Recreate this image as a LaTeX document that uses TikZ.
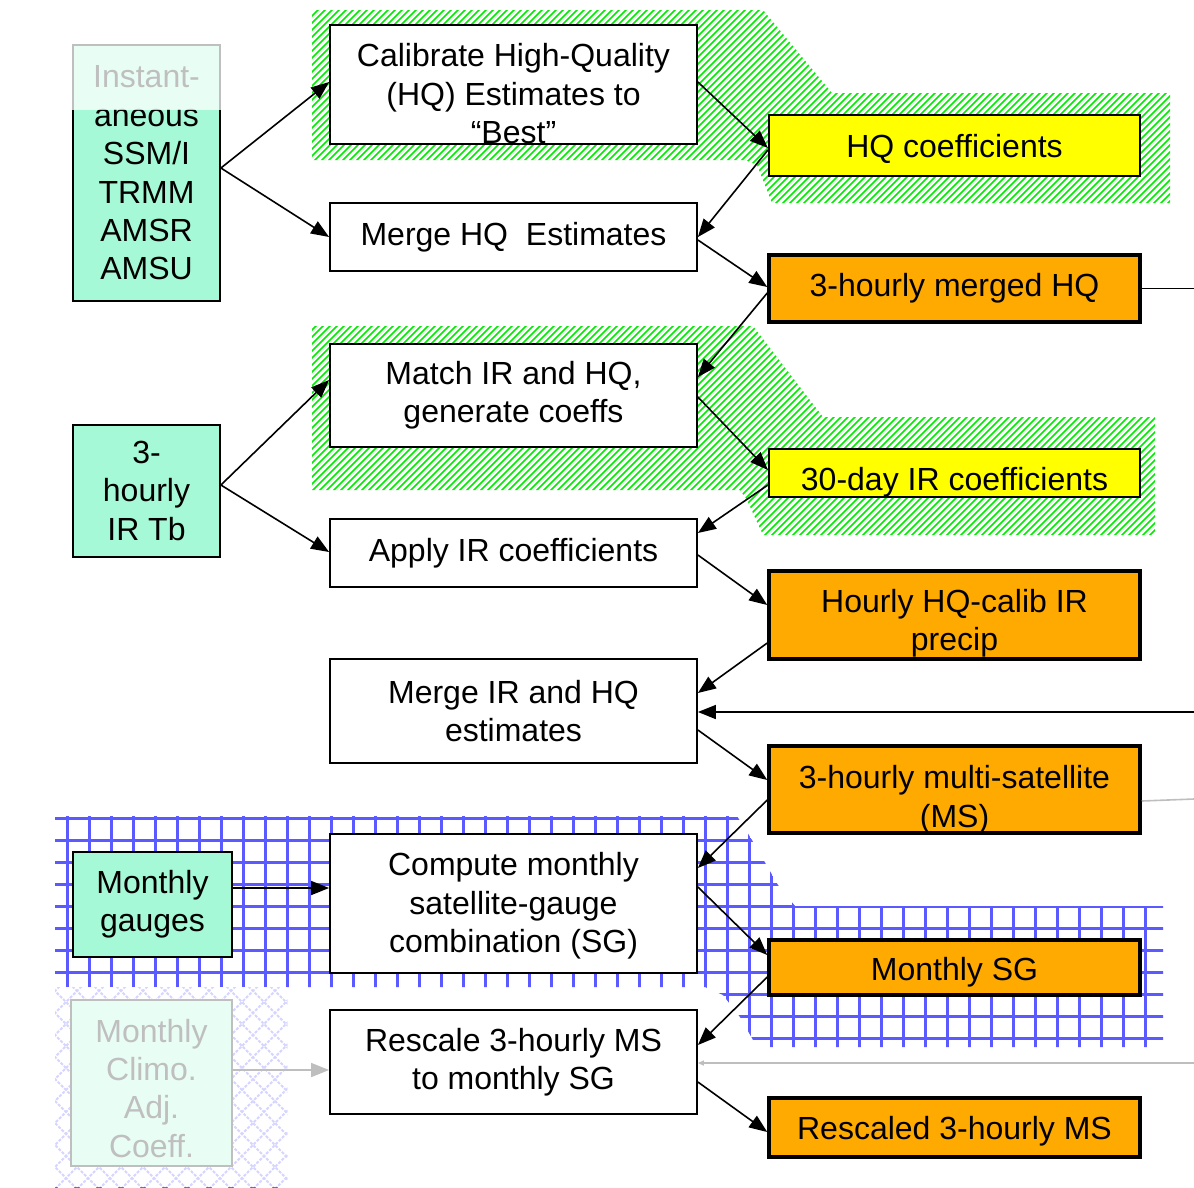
\documentclass[tikz,border=0pt]{standalone}
\usepackage{fontspec}
\setmainfont{Liberation Sans}
\usetikzlibrary{arrows.meta}
\definecolor{mint}{RGB}{166,249,214}
\definecolor{orng}{RGB}{255,170,0}
\definecolor{yel}{RGB}{255,255,0}
\definecolor{hgreen}{RGB}{0,235,0}
\definecolor{gblue}{RGB}{90,90,255}
\definecolor{fgray}{RGB}{190,190,190}
\newcommand{\dnbox}[2]{\raisebox{-#1}[\height][\depth]{\begin{tabular}{@{}c@{}}#2\end{tabular}}}
\begin{document}
\begin{tikzpicture}[x=1pt,y=-1pt,
  every node/.style={font=\fontsize{32}{38.4}\selectfont, inner sep=0pt, align=center},
  proc/.style={draw=black, line width=1.8pt, fill=white, minimum width=367pt},
  prod/.style={draw=black, line width=3.5pt, fill=orng, minimum width=371pt},
  coef/.style={draw=black, line width=2.2pt, fill=yel, minimum width=371pt},
  src/.style={draw=black, line width=1.8pt, fill=mint},
  arr/.style={line width=1.6pt, -{Triangle[length=18pt,width=14pt]}},
  hatchline/.style={hgreen, line width=1.6pt},
  gridline/.style={gblue, line width=3pt},
  fadeline/.style={fgray, line width=1.6pt},
]
\useasboundingbox (0,0) rectangle (1194,1187);

% green hatched regions
\begin{scope}
\clip (312,10) -- (763,10) -- (832,93) -- (1170,93) -- (1170,203) -- (772,203) -- (757,165) -- (745,160) -- (312,160) -- cycle;
\foreach \i in {300,307,...,1900} \draw[hatchline] (\i,0) -- ++(-700,700);
\end{scope}
\begin{scope}
\clip (312,326) -- (753,326) -- (823,417) -- (1155,417) -- (1155,535) -- (763,535) -- (747,500) -- (740,490) -- (312,490) -- cycle;
\foreach \i in {600,607,...,2000} \draw[hatchline] (\i,0) -- ++(-900,900);
\end{scope}

% blue grid region
\begin{scope}
\clip (55,816) -- (737,816) -- (752,840) -- (778,885) -- (795,906) -- (1163,906) -- (1163,1047) -- (757,1047) -- (740,1017) -- (723,995) -- (705,987) -- (55,987) -- cycle;
\foreach \k in {0,...,10} \draw[gridline] (40,818+22*\k) -- (1180,818+22*\k);
\foreach \k in {0,...,50} \draw[gridline] (67+22*\k,800) -- (67+22*\k,1060);
\end{scope}

% faded crosshatch region
\begin{scope}
\clip (55,987) rectangle (287,1187);
\foreach \i in {0,22,...,500} {
  \draw[gblue, line width=2pt, dash pattern=on 3pt off 1.5pt] (\i,980) -- ++(-220,220);
  \draw[gblue, line width=2pt, dash pattern=on 3pt off 1.5pt] (\i-220,980) -- ++(220,220);
}
\end{scope}

% nodes
\node[src, minimum width=147pt, minimum height=256pt] (instant) at (146.5,173) {Instant-\\aneous\\SSM/I\\TRMM\\AMSR\\AMSU};
\node[proc, minimum height=119pt] (cal) at (513.5,84.5) {\dnbox{13pt}{Calibrate High-Quality\\(HQ) Estimates to\\“Best”}};
\node[proc, minimum height=68pt] (mhq) at (513.5,237) {Merge HQ\ \ Estimates};
\node[coef, minimum height=61pt] (hqc) at (954.5,145.5) {\dnbox{4pt}{HQ coefficients}};
\node[prod, minimum height=67pt] (m3hq) at (954.5,288.5) {3-hourly merged HQ};
\node[proc, minimum height=103pt] (match) at (513.5,395.5) {Match IR and HQ,\\generate coeffs};
\node[coef, minimum height=48pt] (ir30) at (954.5,473) {\dnbox{10pt}{30-day IR coefficients}};
\node[src, minimum width=147pt, minimum height=132pt] (irtb) at (146.5,491) {\dnbox{3pt}{3-\\hourly\\IR Tb}};
\node[proc, minimum height=68pt] (apply) at (513.5,553) {Apply IR coefficients};
\node[prod, minimum height=88pt] (hourly) at (954.5,615) {\dnbox{9pt}{Hourly HQ-calib IR\\precip}};
\node[proc, minimum height=104pt] (mergeir) at (513.5,711) {Merge IR and HQ\\estimates};
\node[prod, minimum height=87pt] (ms) at (954.5,789.5) {\dnbox{11pt}{3-hourly multi-satellite\\(MS)}};
\node[src, minimum width=159pt, minimum height=105pt] (gauges) at (152.5,904.5) {Monthly\\gauges};
\node[proc, minimum height=139pt] (compute) at (513.5,903.5) {\dnbox{3pt}{Compute monthly\\satellite-gauge\\combination (SG)}};
\node[prod, minimum height=55pt] (msg) at (954.5,967.5) {\dnbox{5pt}{Monthly SG}};
\node[src, minimum width=161pt, minimum height=166pt] (climo) at (151.5,1083) {\dnbox{9pt}{Monthly\\Climo.\\Adj.\\Coeff.}};
\node[proc, minimum height=104pt] (rescale) at (513.5,1062) {Rescale 3-hourly MS\\to monthly SG};
\node[prod, minimum height=59pt] (rescaled) at (954.5,1127.5) {\dnbox{4pt}{Rescaled 3-hourly MS}};

% connectors
\draw[arr] ([yshift=5pt]instant.east) -- ([yshift=2.5pt]cal.west);
\draw[arr] ([yshift=5pt]instant.east) -- (mhq.west);
\draw[arr] ([yshift=6pt]irtb.east) -- ([yshift=15.5pt]match.west);
\draw[arr] ([yshift=6pt]irtb.east) -- ([yshift=1pt]apply.west);
\draw[arr] ([yshift=2.5pt]cal.east) -- ([yshift=-2.5pt]hqc.west);
\draw[arr] ([yshift=-4.5pt]hqc.west) -- (mhq.east);
\draw[arr] ([yshift=-3pt]mhq.east) -- ([yshift=1.5pt]m3hq.west);
\draw[arr] ([yshift=-4.5pt]m3hq.west) -- ([yshift=18.5pt]match.east);
\draw[arr] ([yshift=-1.5pt]match.east) -- ([yshift=3pt]ir30.west);
\draw[arr] ([yshift=-12pt]ir30.west) -- ([yshift=20pt]apply.east);
\draw[arr] ([yshift=-2pt]apply.east) -- ([yshift=10pt]hourly.west);
\draw[arr] ([yshift=-28pt]hourly.west) -- ([yshift=18pt]mergeir.east);
\draw[arr] ([yshift=-19pt]mergeir.east) -- ([yshift=9.5pt]ms.west);
\draw[arr] ([yshift=-10.5pt]ms.west) -- ([yshift=35.5pt]compute.east);
\draw[arr] ([yshift=16.5pt]compute.east) -- ([yshift=12.5pt]msg.west);
\draw[arr] ([yshift=-9.5pt]msg.west) -- ([yshift=17pt]rescale.east);
\draw[arr] ([yshift=-20pt]rescale.east) -- ([yshift=-4.5pt]rescaled.west);
\coordinate (g1) at ([yshift=16.5pt]gauges.east);
\draw[arr] (g1) -- (g1 -| compute.west);

% off-picture connectors
\coordinate (r1) at (1194,290);
\coordinate (r2) at (1194,712);
\coordinate (r3) at (1194,799);
\coordinate (r4) at (1194,1063);
\draw[line width=1.6pt] (m3hq.east) -- (m3hq.east -| r1);
\draw[arr] (r2) -- (r2 -| mergeir.east);
\draw[fadeline] ([yshift=-11.5pt]ms.east) -- (r3);
\draw[fadeline, -{Triangle[length=6pt,width=5pt]}] (r4) -- (r4 -| rescale.east);

% faded overlays
\fill[white, opacity=0.75] (55,987) rectangle (287,1187);
\fill[white, opacity=0.75] (71,43) rectangle (222,110);
\coordinate (c1) at ([yshift=13pt]climo.east);
\draw[fadeline, -{Triangle[length=18pt,width=14pt]}] (c1) -- (c1 -| rescale.west);
\end{tikzpicture}
\end{document}
